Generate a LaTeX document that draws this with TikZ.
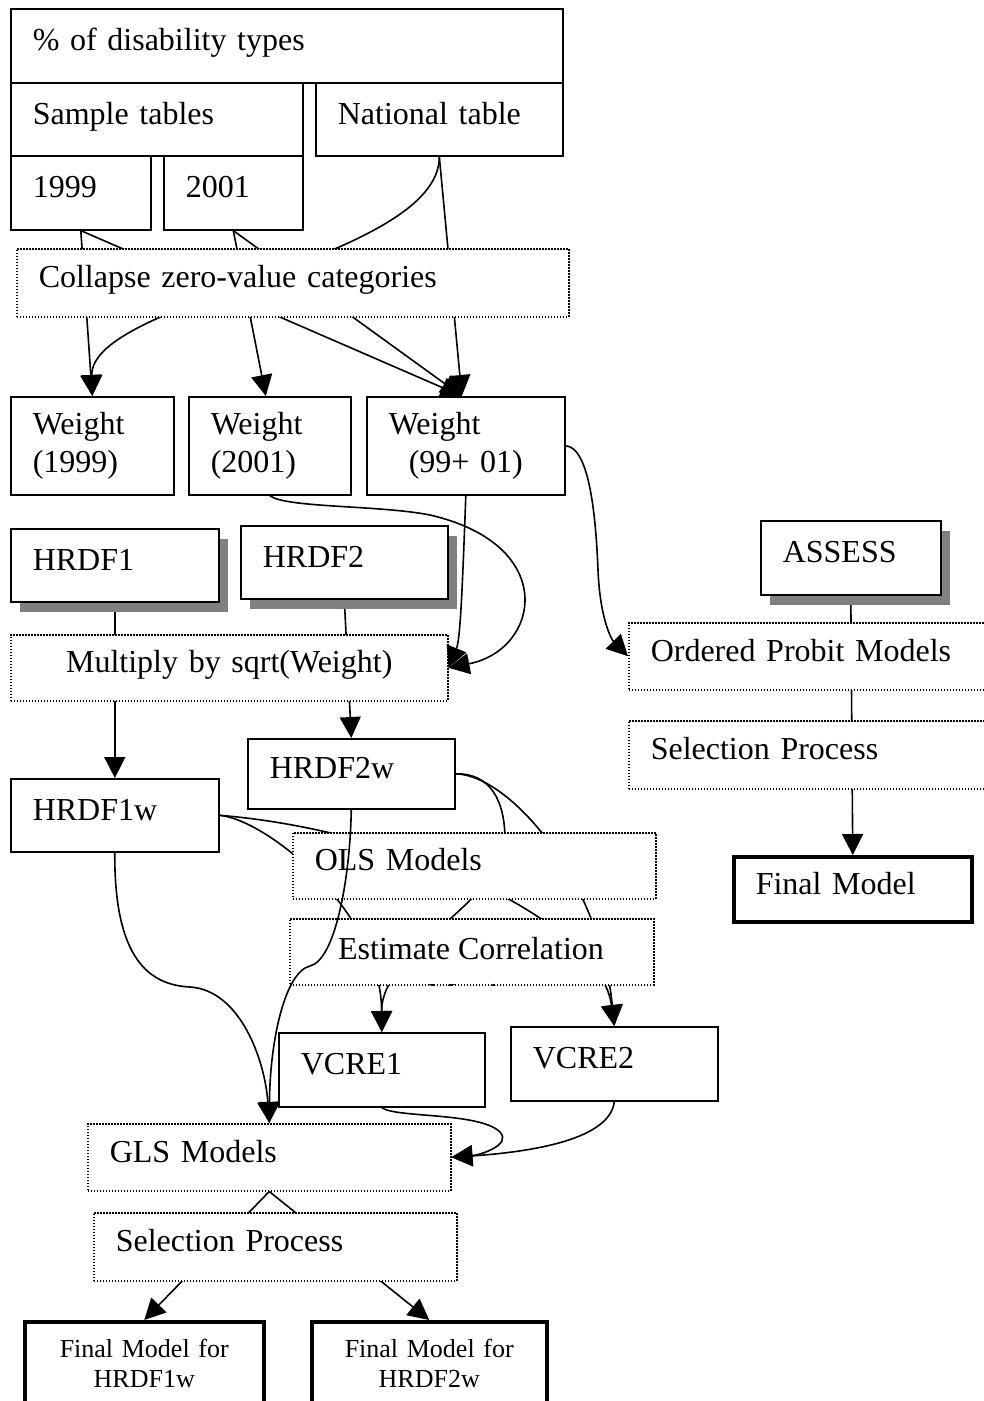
\documentclass[tikz,border=0pt]{standalone}
\usepackage{fontspec}
\setmainfont{Liberation Serif}
\usetikzlibrary{arrows.meta, shadows}
\definecolor{shadowgray}{RGB}{128, 128, 128}
\newcommand{\bigtxt}{\fontsize{32}{38}\selectfont}
\newcommand{\smalltxt}{\fontsize{26}{30}\selectfont}
\pgfdeclarelayer{bg}
\pgfdeclarelayer{links}
\pgfsetlayers{bg,links,main}

\begin{document}
\begin{tikzpicture}[x=1pt, y=-1pt,
    boxbase/.style={draw, fill=white, line width=1.6pt, anchor=north west, align=left, inner xsep=22pt, inner ysep=0pt, font=\bigtxt},
    box/.style={boxbase, text height=22pt, text depth=12pt},
    dotbox/.style={box, dash pattern=on 1.5pt off 1.5pt, line width=1.5pt},
    thickbox/.style={boxbase, line width=3.5pt, align=center, font=\smalltxt},
    shadebox/.style={box, drop shadow={fill=shadowgray, opacity=1, shadow xshift=9pt, shadow yshift=-10pt}},
    link/.style={line width=1.6pt, -{Triangle[length=21pt, width=21pt]}}]

  % Page
  \begin{pgfonlayer}{bg}
    \fill[white] (0,0) rectangle (984,1401);
  \end{pgfonlayer}
  \useasboundingbox (0,0) rectangle (984,1401);

  % Tables
  \node[box, text width=508pt, minimum height=74pt] (types) at (10,8) {\% of disability types};
  \node[box, text width=248pt, minimum height=73pt] (sample) at (10,82) {Sample tables};
  \node[box, text width=203pt, minimum height=73pt] (national) at (315,82) {National table};
  \node[box, text width=96pt, minimum height=74pt] (y1999) at (10,155) {1999};
  \node[box, text width=95pt, minimum height=74pt] (y2001) at (163,155) {2001};
  \node[dotbox, text width=508pt, minimum height=68pt] (collapse) at (16,248) {Collapse zero-value categories};

  % Weights
  \node[boxbase, text width=119pt, minimum height=98pt] (w1999) at (10,396) {Weight\\(1999)};
  \node[boxbase, text width=118pt, minimum height=98pt] (w2001) at (188,396) {Weight\\(2001)};
  \node[boxbase, text width=154pt, minimum height=98pt] (w9901) at (366,396) {Weight\\\hspace*{20pt}(99+ 01)};

  % Left branch
  \node[shadebox, text width=164pt, minimum height=73pt] (hrdf1) at (10,528) {HRDF1};
  \node[shadebox, text width=163pt, minimum height=73pt] (hrdf2) at (240,525) {HRDF2};
  \node[dotbox, align=center, text width=393pt, minimum height=66pt] (mult) at (10,634) {Multiply by sqrt(Weight)};
  \node[box, text width=163pt, minimum height=70pt] (hrdf2w) at (247,738) {HRDF2w};
  \node[box, text width=164pt, minimum height=73pt] (hrdf1w) at (10,778) {HRDF1w};
  \node[dotbox, text width=319pt, minimum height=66pt] (ols) at (292,832) {OLS Models};
  \node[dotbox, minimum width=364pt, minimum height=66pt] (corr) at (289,918) {};
  \begin{scope}
    \clip (corr.north west) rectangle (corr.south east);
    \node[anchor=north, align=center, inner sep=0pt, font=\bigtxt] (corrtext) at (471,937) {Estimate Correlation\\[8pt]Matrix};
  \end{scope}
  \node[box, text width=162pt, minimum height=74pt] (vcre1) at (278,1032) {VCRE1};
  \node[box, text width=163pt, minimum height=74pt] (vcre2) at (510,1026) {VCRE2};
  \node[dotbox, text width=319pt, minimum height=67pt] (gls) at (87,1123) {GLS Models};
  \node[dotbox, text width=319pt, minimum height=68pt] (selleft) at (93,1212) {Selection Process};
  \node[thickbox, text width=195pt, minimum height=84pt] (finl) at (23,1320) {Final Model for\\HRDF1w};
  \node[thickbox, text width=191pt, minimum height=84pt] (finr) at (310,1320) {Final Model for\\HRDF2w};

  % Right branch
  \node[shadebox, text width=136pt, minimum height=74pt] (assess) at (760,520) {ASSESS};
  \node[dotbox, text width=328pt, minimum height=67pt] (probit) at (628,622) {Ordered Probit Models};
  \node[dotbox, text width=328pt, minimum height=68pt] (selright) at (628,720) {Selection Process};
  \node[box, line width=3.5pt, text width=194pt, minimum height=65pt] (final) at (732,855) {Final Model};

  % Links behind the boxes
  \begin{pgfonlayer}{links}
    \draw[link] (y1999.south) -- (w1999.north);
    \draw[link] (y1999.south) -- ([xshift=-4pt]w9901.north);
    \draw[link] (y2001.south) -- ([xshift=-4pt]w2001.north);
    \draw[link] (y2001.south) -- ([xshift=-4pt]w9901.north);
    \draw[link] (national.south) -- ([xshift=-4pt]w9901.north);
    \draw[link] (national.south) .. controls (440,260) and (90,300) .. (w1999.north);
    \draw[link] (hrdf1.south) -- (hrdf1w.north);
    \draw[link] (hrdf2.south) -- (hrdf2w.north);
    \draw[link] (hrdf1w.east) .. controls (268,820) and (381,912) .. (vcre1.north);
    \draw[link] (hrdf1w.east) .. controls (400,830) and (600,920) .. (vcre2.north);
    \draw[link] (hrdf2w.east) .. controls (490,773) and (505,800) .. (505,840) .. controls (505,900) and (381,950) .. (vcre1.north);
    \draw[link] (hrdf2w.east) .. controls (510,775) and (600,880) .. (vcre2.north);
    \draw[link] (gls.south) -- (finl.north);
    \draw[link] (gls.south) -- (finr.north);
    \draw[link] (assess.south) -- (final.north);
  \end{pgfonlayer}

  % Links over the boxes
  \draw[link] (w2001.south) .. controls (285,508) and (380,505) .. (430,515) .. controls (560,545) and (540,650) .. (mult.east);
  \draw[link] (w9901.south) .. controls (462,600) and (460,640) .. (mult.east);
  \draw[link] (w9901.east) .. controls (590,447) and (596,520) .. (598,570) .. controls (600,620) and (612,640) .. (probit.west);
  \draw[link] (hrdf2w.south) .. controls (350,880) and (335,960) .. (310,966) .. controls (285,972) and (270,1040) .. (gls.north);
  \draw[link] (hrdf1w.south) .. controls (114,960) and (150,985) .. (190,987) .. controls (240,990) and (265,1060) .. (gls.north);
  \draw[link] (vcre1.south) .. controls (395,1118) and (480,1112) .. (500,1132) .. controls (512,1145) and (480,1155) .. (gls.east);
  \draw[link] (vcre2.south) .. controls (610,1140) and (530,1152) .. (gls.east);
\end{tikzpicture}
\end{document}
